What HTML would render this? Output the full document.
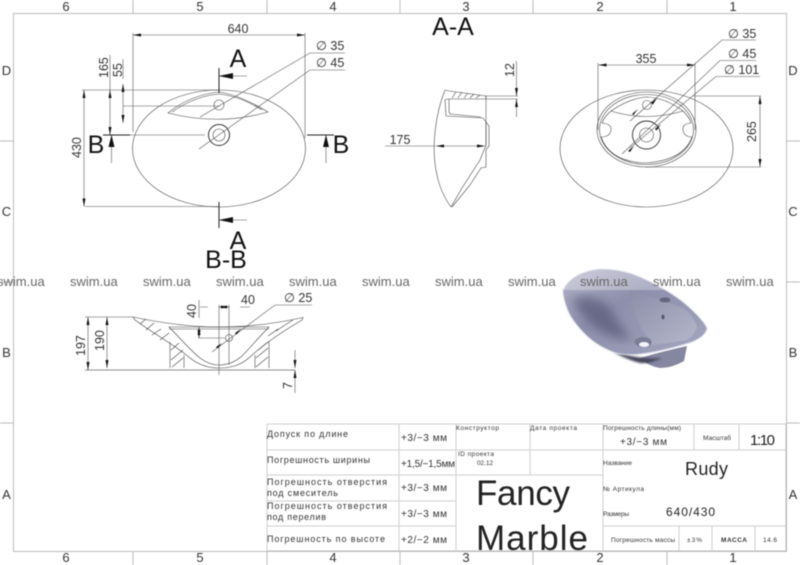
<!DOCTYPE html>
<html><head><meta charset="utf-8"><style>
html,body{margin:0;padding:0;background:#fff}
svg{display:block;filter:blur(.45px)}
text{font-family:"Liberation Sans","DejaVu Sans",sans-serif;fill:#222}
.f{stroke:#bbb;stroke-width:1;fill:none}
.l{stroke:#444;stroke-width:.6;fill:none}
.d{stroke:#555;stroke-width:.6;fill:none}
.h{stroke:#444;stroke-width:.6;fill:none}
.t{stroke:#d0d0d0;stroke-width:1;fill:none}
.a{marker-start:url(#as);marker-end:url(#ae)}
.e{marker-end:url(#ae)}
.n{font-size:12.5px;fill:#333}
.b{font-size:13px;fill:#333;text-anchor:middle}
.big{font-size:25px;fill:#111;text-anchor:middle}
.w{font-size:13px;fill:#666}
.c{font-size:9px;fill:#333}
.v{font-size:10px;fill:#333}
.s{font-size:6.5px;fill:#333}
</style></head><body>
<svg width="800" height="565" viewBox="0 0 800 565" xmlns="http://www.w3.org/2000/svg">
<defs>
<marker id="ae" markerWidth="9" markerHeight="5" refX="8" refY="2.5" orient="auto" markerUnits="userSpaceOnUse"><path d="M0 1L8 2.5L0 4z" fill="#111"/></marker>
<marker id="as" markerWidth="9" markerHeight="5" refX="0" refY="2.5" orient="auto" markerUnits="userSpaceOnUse"><path d="M8 1L0 2.5L8 4z" fill="#111"/></marker>
<linearGradient id="g1" x1="0" y1="0" x2="1" y2="1"><stop offset="0" stop-color="#b4b5c9"/><stop offset=".4" stop-color="#8d8fac"/><stop offset="1" stop-color="#a5a7bf"/></linearGradient>
<linearGradient id="g2" x1="0" y1="0" x2="1" y2="1"><stop offset="0" stop-color="#8c8ea9"/><stop offset="1" stop-color="#b5b7cb"/></linearGradient>
<filter id="bl"><feGaussianBlur stdDeviation="5"/></filter>
<filter id="bs"><feGaussianBlur stdDeviation="1"/></filter>
</defs>

<!-- frame -->
<rect class="f" x="13.5" y="13.5" width="773" height="538"/>
<path class="f" d="M133 0V13M267 0V13M400 0V13M533 0V13M667 0V13M133 552V565M267 552V565M400 552V565M533 552V565M667 552V565M0 141H13M0 282H13M0 423H13M787 141H800M787 282H800M787 423H800"/>
<g>
<text class="b" x="66" y="11">6</text><text class="b" x="200" y="11">5</text><text class="b" x="333" y="11">4</text><text class="b" x="466" y="11">3</text><text class="b" x="600" y="11">2</text><text class="b" x="733" y="11">1</text>
<text class="b" x="66" y="562">6</text><text class="b" x="200" y="562">5</text><text class="b" x="333" y="562">4</text><text class="b" x="466" y="562">3</text><text class="b" x="600" y="562">2</text><text class="b" x="733" y="562">1</text>
<text class="b" x="6.5" y="75">D</text><text class="b" x="6.5" y="216">C</text><text class="b" x="6.5" y="357">B</text><text class="b" x="6.5" y="499">A</text>
<text class="b" x="793" y="75">D</text><text class="b" x="793" y="216">C</text><text class="b" x="793" y="357">B</text><text class="b" x="793" y="499">A</text>
</g>

<!-- top view -->
<ellipse class="l" cx="219" cy="148.5" rx="86.5" ry="58.5"/>
<path class="l" d="M168 113Q219 126 268 112Q240 95 219 92Q190 95 168 113z"/>
<path class="l" d="M172 112Q195 96 219 94Q240 96 262 110"/>
<circle class="l" cx="219" cy="105" r="5"/>
<circle cx="219" cy="135" r="10.5" fill="none" stroke="#333" stroke-width="1"/>
<circle class="l" cx="219" cy="135" r="6"/>
<path class="d" d="M133 33V132M305 33V138"/>
<path class="d a" d="M133 35H305"/>
<path class="d" d="M110 55V90M123 59V79M82 90H219M123 106H219M85 206.5H219"/>
<path class="d a" d="M110 90V135"/>
<path class="d a" d="M123 84V123"/>
<path class="d a" d="M84 90V206.5"/>
<path class="d" d="M345 53H310L200 117M345 70H310L199 149"/>
<path stroke="#222" stroke-width="1" fill="none" d="M103 135H130M307 135H334M219 68V93M219 202V228"/>
<path class="d" d="M130 135H205"/>
<path class="d e" d="M111.5 163V135"/>
<path class="d e" d="M326 163V135"/>
<path class="d e" d="M247 76H219"/>
<path class="d e" d="M247 220H219"/>
<path d="M111.5 135L108.5 147H114.5zM326 135L323 147H329zM219 76L233 73V79zM219 220L233 217V223z" fill="#111"/>
<text class="n" x="238" y="33" text-anchor="middle">640</text>
<text class="n" transform="translate(108,78) rotate(-90)">165</text>
<text class="n" transform="translate(122,77) rotate(-90)">55</text>
<text class="n" transform="translate(81,158) rotate(-90)">430</text>
<text class="n" x="316" y="50">∅ 35</text>
<text class="n" x="316" y="67">∅ 45</text>
<text class="big" x="238" y="67">A</text>
<text class="big" x="238" y="249">A</text>
<text class="big" x="96" y="153">B</text>
<text class="big" x="341" y="153">B</text>

<!-- A-A -->
<text class="big" x="453" y="35">A-A</text>
<path class="l" d="M445 90C435 115 431 150 437 175C440 190 446 200 451 207"/>
<path class="l" d="M445 90L449 91L486 96V99H447L445 100L446 116L483 118L486 122V146L484 150L480 160L462 188L451 207"/>
<path class="l" d="M449 99V112L450 114L481 117M486 122L489 126V146L486 150V167L481 168L470 185L452 207"/>
<path class="h" d="M452 98l4-6M458 98l4-6M464 98l4-5M470 98l4-4M476 98l4-3"/>
<path class="d" d="M486 96V146M486 96H518M486 99H518M385 146H435"/>
<path class="d a" d="M436 146H485"/>
<path class="d" d="M516.5 61V88M516.5 107V117"/>
<path class="d e" d="M516.5 88V96"/>
<path class="d e" d="M516.5 107V99"/>
<text class="n" x="400" y="144" text-anchor="middle">175</text>
<text class="n" transform="translate(514,77) rotate(-90)">12</text>

<!-- right view -->
<ellipse class="l" cx="646.5" cy="148.5" rx="86.5" ry="58.5"/>
<ellipse class="l" cx="646.5" cy="129.5" rx="49.5" ry="37.5"/>
<ellipse class="l" cx="646.5" cy="129.5" rx="47" ry="35"/>
<path class="l" d="M611 111Q646 122 683 111Q690 118 691 123Q682 124 683 130Q684 137 692 137Q684 160 646 163Q610 162 601 137Q610 137 611 130Q612 124 602 123Q604 117 611 111z"/>
<path class="l" d="M611 111Q630 98 647 97Q666 98 683 111"/>
<circle class="l" cx="647" cy="105" r="4.5"/>
<circle cx="646.5" cy="135" r="14" fill="none" stroke="#333" stroke-width=".9"/>
<circle class="l" cx="646.5" cy="135" r="7"/>
<path class="d" d="M598 63V130M695 63V130M693 96H761M645 167H761"/>
<path class="d a" d="M598.5 65H695"/>
<path class="d a" d="M760 96V167"/>
<path class="d" d="M756 40H722L630 121M756 60.5H720L622 154M760 76.5H716L630 148"/>
<path d="M657 98l-6 5 2 1.500zM638 109l-6 5 1.500 1zM661 124l-6 5 1.500 1.500zM634 146l-6 5 2 1z" fill="#111"/>
<text class="n" x="646" y="63" text-anchor="middle">355</text>
<text class="n" transform="translate(756,142) rotate(-90)">265</text>
<text class="n" x="728" y="38">∅ 35</text>
<text class="n" x="728" y="58">∅ 45</text>
<text class="n" x="724" y="74">∅ 101</text>

<!-- B-B -->
<text class="big" x="226" y="268">B-B</text>
<path class="d" d="M85 317H133"/>
<path class="l" d="M133 317Q180 327 220 327Q260 327 303 317.500L302 320C285 330 265 343 250 357C240 366 230 368 219 368C210 368 200 366 190 358C175 345 160 338 135 320z"/>
<path class="l" d="M169 327C180 338 190 350 200 358C208 364 214 365 219 365C226 365 234 363 242 356C250 348 260 336 269 327z"/>
<path class="l" d="M169 329H269"/>
<path class="l" d="M170 342V368M184 355V368M255 355V368M269 342V368"/>
<path stroke="#666" stroke-width=".7" fill="none" d="M85 370H295"/>
<path class="h" d="M140 324l6-5M146 330l8-7M152 335l9-6M160 340l9-7M171 350l8-7M171 360l12-10M172 367l11-9M256 367l12-10M256 358l12-10M258 350l10-8M268 336l10-7M276 331l9-6M285 325l8-5"/>
<path class="d a" d="M88 317V370"/>
<path class="d a" d="M107 317V368"/>
<path class="d" d="M295 350V362M295 378V393M199 300V318M198 338H225M219 305V375M229 305V365M200 307H208M240 307H250"/>
<path class="d e" d="M295 361V368"/>
<path class="d e" d="M295 378V370"/>
<path class="d a" d="M199 327V338"/>
<path class="d a" d="M219 307H229"/>
<path class="d" d="M312 305H275L212 352"/>
<circle class="l" cx="229" cy="338" r="3.500"/>
<path d="M241 329l-6 4 1.500 1.500zM222 343l-6 4 1.500 1.500z" fill="#111"/>
<text class="n" transform="translate(85,356) rotate(-90)">197</text>
<text class="n" transform="translate(104,351) rotate(-90)">190</text>
<text class="n" transform="translate(292,389) rotate(-90)">7</text>
<text class="n" transform="translate(196,318) rotate(-90)">40</text>
<text class="n" x="248" y="304" text-anchor="middle">40</text>
<text class="n" x="284" y="302">∅ 25</text>

<!-- 3D basin -->
<path d="M640 358Q660 352 687 346L684 361Q672 368 660 368Q648 366 640 358z" fill="#85869f"/>
<path d="M612 351Q640 360 662 358Q650 364 640 363Q625 359 612 351z" fill="#44455a" filter="url(#bs)"/>
<path d="M563 290Q572 272 600 269Q622 269 640 277Q665 288 683 302Q702 318 707 328Q706 336 692 342Q660 352 640 354Q625 356 613 352Q595 345 583 332Q570 318 567 308Q563 298 563 290z" fill="url(#g1)" stroke="#d6d7e2" stroke-width="1"/>
<path d="M630 290L683 308Q694 316 697 327Q694 336 687 340L653 345Q645 336 640 325Q634 313 632 305z" fill="url(#g2)"/>
<path d="M572 300Q590 292 608 305Q620 325 632 340Q612 340 595 328Q580 315 572 300z" fill="#5e607f" filter="url(#bl)" opacity=".8"/>
<ellipse cx="665" cy="300" rx="5.500" ry="2.500" fill="#64657f"/>
<ellipse cx="663" cy="317" rx="1.500" ry="2.500" fill="#55566f"/>
<ellipse cx="643" cy="342" rx="8.500" ry="5" fill="#7c7d96"/>
<ellipse cx="644" cy="344.500" rx="5" ry="2.500" fill="#f4f4f8"/>
<rect x="560" y="265" width="160" height="25" fill="#fff" opacity=".3"/>

<!-- watermark -->
<text class="w" x="-3" y="286">swim.ua</text><text class="w" x="70" y="286">swim.ua</text><text class="w" x="143" y="286">swim.ua</text><text class="w" x="216" y="286">swim.ua</text><text class="w" x="289" y="286">swim.ua</text><text class="w" x="362" y="286">swim.ua</text><text class="w" x="435" y="286">swim.ua</text><text class="w" x="508" y="286">swim.ua</text><text class="w" x="580" y="286">swim.ua</text><text class="w" x="653" y="286">swim.ua</text><text class="w" x="726" y="286">swim.ua</text>

<!-- title block -->
<path class="t" d="M267 424H786M267 450H786M267 475H603M267 501H456M267 526H456M603 526H786M267 424V551M399 424V551M456 424V551M530 424V475M603 424V551M694 424V450M739 424V450M679 526V551M712 526V551M755 526V551"/>
<path class="f" d="M267 551H786M786 424V551"/>
<g>
<text class="c" x="267" y="437" textLength="81" lengthAdjust="spacing">Допуск по длине</text>
<text class="c" x="267" y="463" textLength="103" lengthAdjust="spacing">Погрешность ширины</text>
<text class="c" x="267" y="485" textLength="120" lengthAdjust="spacing">Погрешность отверстия</text>
<text class="c" x="267" y="496" textLength="71" lengthAdjust="spacing">под смеситель</text>
<text class="c" x="267" y="509" textLength="120" lengthAdjust="spacing">Погрешность отверстия</text>
<text class="c" x="267" y="520" textLength="59" lengthAdjust="spacing">под перелив</text>
<text class="c" x="267" y="542" textLength="118" lengthAdjust="spacing">Погрешность по высоте</text>
<text class="v" x="401" y="441" textLength="46" lengthAdjust="spacing">+3/−3 мм</text>
<text class="v" x="401" y="467" textLength="54" lengthAdjust="spacing" font-size="9.5">+1,5/−1,5мм</text>
<text class="v" x="401" y="491" textLength="46" lengthAdjust="spacing">+3/−3 мм</text>
<text class="v" x="401" y="517" textLength="46" lengthAdjust="spacing">+3/−3 мм</text>
<text class="v" x="401" y="543" textLength="46" lengthAdjust="spacing">+2/−2 мм</text>
<text class="s" x="456" y="430" textLength="43" lengthAdjust="spacing">Конструктор</text>
<text class="s" x="530" y="430" textLength="47" lengthAdjust="spacing">Дата проекта</text>
<text class="s" x="458" y="456" textLength="36" lengthAdjust="spacing">ID проекта</text>
<text class="s" x="477" y="465" textLength="16" lengthAdjust="spacing">02.12</text>
<text x="476" y="505" font-size="35" fill="#111" textLength="94" lengthAdjust="spacing">Fancy</text>
<text x="476" y="550" font-size="35" fill="#111" textLength="112" lengthAdjust="spacing">Marble</text>
<text class="s" x="603" y="430" textLength="78" lengthAdjust="spacing">Погрешность длины(мм)</text>
<text class="v" x="620" y="445" textLength="47" lengthAdjust="spacing">+3/−3 мм</text>
<text class="s" x="703" y="440" textLength="28" lengthAdjust="spacing">Масштаб</text>
<text x="750" y="445" font-size="15" fill="#222" textLength="25" lengthAdjust="spacing">1:10</text>
<text class="s" x="603" y="465" textLength="29" lengthAdjust="spacing">Название</text>
<text x="685" y="475" font-size="18" fill="#222" textLength="43" lengthAdjust="spacing">Rudy</text>
<text class="s" x="603" y="491" textLength="41" lengthAdjust="spacing">№ Артикула</text>
<text class="s" x="603" y="516" textLength="26" lengthAdjust="spacing">Размеры</text>
<text x="666" y="516" font-size="12" fill="#333" textLength="49" lengthAdjust="spacing">640/430</text>
<text class="s" x="611" y="542" textLength="64" lengthAdjust="spacing">Погрешность массы</text>
<text class="s" x="687" y="542" textLength="15" lengthAdjust="spacing">±3%</text>
<text class="s" x="721" y="542" textLength="26" lengthAdjust="spacing" font-weight="bold">МАССА</text>
<text class="s" x="763" y="542" textLength="14" lengthAdjust="spacing">14.6</text>
</g>
</svg>
</body></html>
